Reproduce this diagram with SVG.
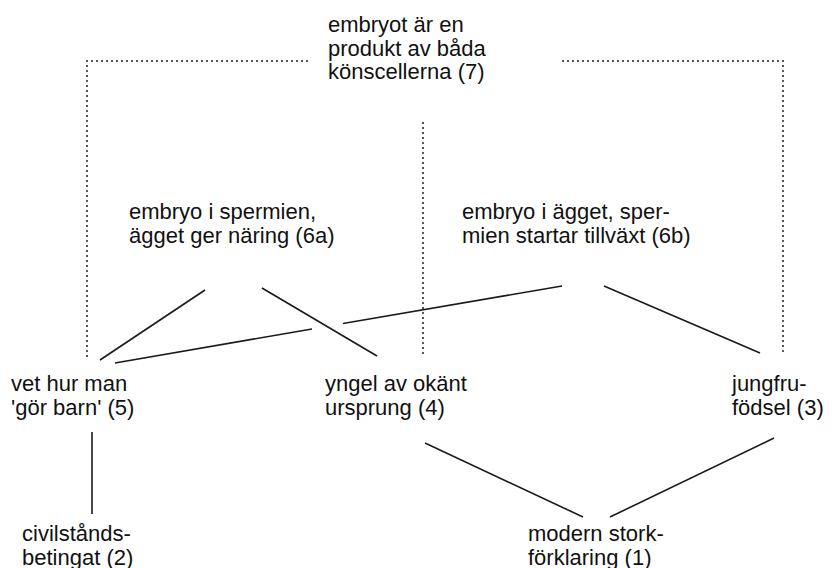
<svg xmlns="http://www.w3.org/2000/svg" width="832" height="568" viewBox="0 0 832 568">
<style>
  text { font-family: "Liberation Sans", Arial, sans-serif; font-size: 22px; fill: #111; }
  .solid { stroke: #1a1a1a; stroke-width: 1.6; fill: none; }
  .dot { stroke: #555; stroke-width: 2; fill: none; stroke-dasharray: 2 3; }
</style>
<rect width="832" height="568" fill="#fff"/>
<g id="connectors">
  <polyline class="dot" points="308,61 87,61 87,360"/>
  <polyline class="dot" points="562,61 783,61 783,352"/>
  <line class="dot" x1="423" y1="122" x2="423" y2="355"/>
  <line class="solid" x1="205" y1="290" x2="100" y2="360"/>
  <line class="solid" x1="262" y1="288" x2="377" y2="356"/>
  <line class="solid" x1="115" y1="363" x2="312" y2="329"/>
  <line class="solid" x1="343" y1="323.5" x2="562" y2="286"/>
  <line class="solid" x1="604" y1="286" x2="760" y2="353"/>
  <line class="solid" x1="92" y1="432" x2="92" y2="514"/>
  <line class="solid" x1="425" y1="443" x2="583" y2="517"/>
  <line class="solid" x1="774" y1="438" x2="610" y2="517"/>
</g>
<g id="n7"><text x="328" y="32">embryot är en</text><text x="328" y="55.5">produkt av båda</text><text x="328" y="79">könscellerna (7)</text></g>
<g id="n6a"><text x="129" y="219">embryo i spermien,</text><text x="129" y="242.5">ägget ger näring (6a)</text></g>
<g id="n6b"><text x="462" y="219">embryo i ägget, sper-</text><text x="462" y="242.5">mien startar tillväxt (6b)</text></g>
<g id="n5"><text x="11" y="391">vet hur man</text><text x="11" y="414.5">'gör barn' (5)</text></g>
<g id="n4"><text x="325" y="391">yngel av okänt</text><text x="325" y="414.5">ursprung (4)</text></g>
<g id="n3"><text x="732" y="391">jungfru-</text><text x="732" y="414.5">födsel (3)</text></g>
<g id="n2"><text x="22" y="541">civilstånds-</text><text x="22" y="564.5">betingat (2)</text></g>
<g id="n1"><text x="528" y="541">modern stork-</text><text x="528" y="564.5">förklaring (1)</text></g>
</svg>
